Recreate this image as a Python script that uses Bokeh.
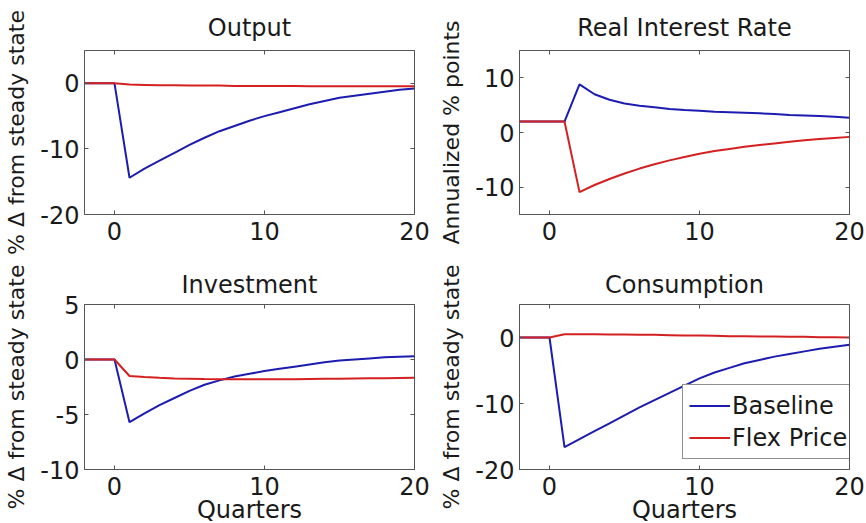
from bokeh.plotting import figure
from bokeh.layouts import gridplot
from bokeh.models import LinearAxis, FixedTicker, Legend, LegendItem
from bokeh.embed import file_html
from bokeh.resources import INLINE

# Impulse responses, quarters -2..20
quarters = list(range(-2, 21))

output_base = [0, 0, 0, -14.4, -13.0, -11.8, -10.6, -9.4, -8.3, -7.3, -6.5, -5.7, -5.0,
               -4.4, -3.8, -3.2, -2.7, -2.2, -1.9, -1.6, -1.3, -1.0, -0.8]
output_flex = [0, 0, 0, -0.2, -0.25, -0.3, -0.3, -0.35, -0.35, -0.35, -0.4, -0.4, -0.4,
               -0.4, -0.4, -0.45, -0.45, -0.45, -0.45, -0.45, -0.45, -0.45, -0.45]

rate_base = [2, 2, 2, 2, 8.8, 7.0, 6.0, 5.3, 4.9, 4.6, 4.3, 4.1, 4.0,
             3.8, 3.7, 3.6, 3.5, 3.4, 3.2, 3.1, 3.0, 2.9, 2.7]
rate_flex = [2, 2, 2, 2, -10.9, -9.6, -8.5, -7.5, -6.6, -5.8, -5.1, -4.5, -3.9,
             -3.4, -3.0, -2.6, -2.3, -2.0, -1.7, -1.4, -1.2, -1.0, -0.8]

invest_base = [0, 0, 0, -5.7, -4.9, -4.15, -3.5, -2.85, -2.3, -1.9, -1.55, -1.3, -1.05,
               -0.85, -0.65, -0.45, -0.25, -0.1, 0.0, 0.1, 0.2, 0.25, 0.3]
invest_flex = [0, 0, 0, -1.5, -1.6, -1.67, -1.72, -1.75, -1.78, -1.8, -1.8, -1.8, -1.8,
               -1.8, -1.8, -1.77, -1.75, -1.75, -1.72, -1.7, -1.7, -1.68, -1.67]

cons_base = [0, 0, 0, -16.6, -15.4, -14.2, -13.0, -11.8, -10.6, -9.5, -8.4, -7.3, -6.2,
             -5.3, -4.6, -3.9, -3.4, -2.9, -2.5, -2.1, -1.7, -1.4, -1.1]
cons_flex = [0, 0, 0, 0.5, 0.5, 0.5, 0.45, 0.45, 0.4, 0.4, 0.35, 0.3, 0.3,
             0.25, 0.2, 0.2, 0.15, 0.15, 0.1, 0.1, 0.05, 0.05, 0.0]

x_ticks = [0, 10, 20]
y_ticks_output = [-20, -10, 0]
y_ticks_rate = [-10, 0, 10]
y_ticks_invest = [-10, -5, 0, 5]
y_ticks_cons = [-20, -10, 0]

series_names = ["Baseline", "Flex Price"]

FONT = "DejaVu Sans"
FS = "24px"
YLABEL_FS = "22px"
BLUE = "#1c1cb0"
RED = "#d42020"
FRAME = "#555555"
TEXT = "#1a1a1a"


def labels_for(ticks):
    return {t: str(t) for t in ticks}


def tick_only_axis(ticks):
    # an unlabelled axis that only draws inward ticks on the box edge
    return LinearAxis(ticker=FixedTicker(ticks=ticks), axis_line_color=None,
                      major_tick_line_color=FRAME, major_tick_in=4, major_tick_out=0,
                      minor_tick_line_color=None, major_label_standoff=0,
                      major_label_text_font_size="1px",
                      major_label_overrides={t: "" for t in ticks})


def panel(title, base, flex, y_range, y_ticks, y_label, x_label, left, top, bottom, right,
          title_gap):
    p = figure(frame_width=330, frame_height=164 if not x_label else 165,
               x_range=(-2, 20), y_range=y_range,
               output_backend="svg", toolbar_location=None,
               min_border_left=left, min_border_right=right,
               min_border_top=top, min_border_bottom=bottom,
               background_fill_color="white", border_fill_color="white")
    p.title.text = title
    p.title.align = "center"
    p.title.text_font = FONT
    p.title.text_font_size = FS
    p.title.text_font_style = "normal"
    p.title.text_color = TEXT
    p.title.standoff = title_gap
    p.xgrid.visible = False
    p.ygrid.visible = False
    p.outline_line_color = FRAME
    p.outline_line_width = 1
    p.outline_line_alpha = 1

    p.xaxis.ticker = FixedTicker(ticks=x_ticks)
    p.xaxis.major_label_overrides = labels_for(x_ticks)
    p.yaxis.ticker = FixedTicker(ticks=y_ticks)
    p.yaxis.major_label_overrides = labels_for(y_ticks)
    for ax in (p.xaxis[0], p.yaxis[0]):
        ax.axis_line_color = FRAME
        ax.major_tick_line_color = FRAME
        ax.major_tick_in = 4
        ax.major_tick_out = 0
        ax.minor_tick_line_color = None
        ax.major_label_text_font = FONT
        ax.major_label_text_font_size = FS
        ax.major_label_text_color = TEXT
        ax.axis_label_text_font = FONT
        ax.axis_label_text_font_size = FS
        ax.axis_label_text_font_style = "normal"
        ax.axis_label_text_color = TEXT
    p.xaxis.major_label_standoff = 7
    p.yaxis.major_label_standoff = 5
    p.yaxis.axis_label = y_label
    p.yaxis.axis_label_text_font_size = YLABEL_FS
    p.yaxis.axis_label_standoff = 8
    if x_label:
        p.xaxis.axis_label = x_label
        p.xaxis.axis_label_standoff = -2

    p.add_layout(tick_only_axis(x_ticks), "above")
    p.add_layout(tick_only_axis(y_ticks), "right")

    r_base = p.line(quarters, base, line_color=BLUE, line_width=2)
    r_flex = p.line(quarters, flex, line_color=RED, line_width=2)
    return p, r_base, r_flex


p1, _, _ = panel("Output", output_base, output_flex, (-20, 5), y_ticks_output,
                 "% \u0394 from steady state", None, 84, 50, 46, 19, 17)
p2, _, _ = panel("Real Interest Rate", rate_base, rate_flex, (-15, 15), y_ticks_rate,
                 "Annualized % points", None, 86, 50, 46, 17, 17)
p3, _, _ = panel("Investment", invest_base, invest_flex, (-10, 5), y_ticks_invest,
                 "% \u0394 from steady state", "Quarters", 84, 44, 54, 19, 11)
p4, c_base, c_flex = panel("Consumption", cons_base, cons_flex, (-20, 5), y_ticks_cons,
                           "% \u0394 from steady state", "Quarters", 86, 44, 54, 17, 11)

legend = Legend(items=[LegendItem(label=series_names[0], renderers=[c_base]),
                       LegendItem(label=series_names[1], renderers=[c_flex])],
                location=(163, 10),
                label_text_font=FONT, label_text_font_size=FS, label_text_color=TEXT,
                glyph_width=41, glyph_height=29, label_height=29, label_standoff=2,
                spacing=3, padding=6, margin=0,
                border_line_color="#222222", border_line_width=1,
                background_fill_color="white", background_fill_alpha=1)
p4.add_layout(legend, "center")

grid = gridplot([[p1, p2], [p3, p4]], toolbar_location=None)

open("out.html", "w").write(file_html(grid, INLINE))
